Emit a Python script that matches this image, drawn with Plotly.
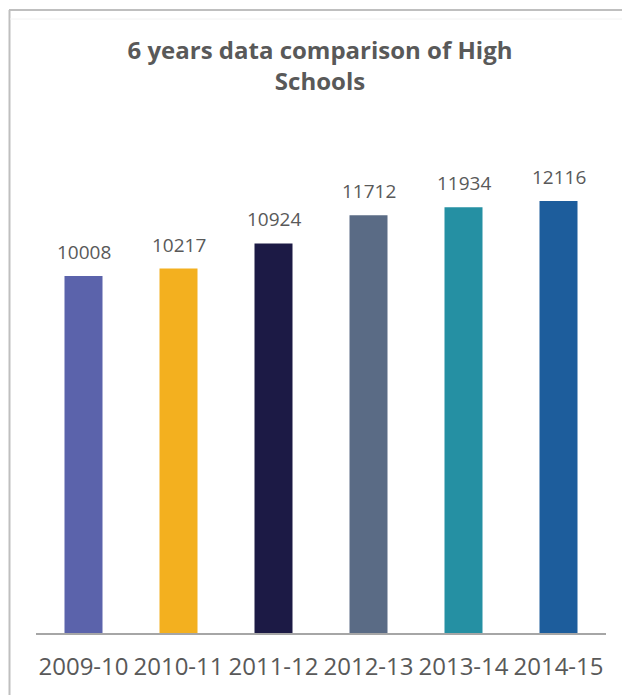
import plotly.graph_objects as go

categories = ["2009-10", "2010-11", "2011-12", "2012-13", "2013-14", "2014-15"]
values = [10008, 10217, 10924, 11712, 11934, 12116]
bar_colors = ["#5b63ab", "#f3b01f", "#1c1a45", "#5a6b85", "#2590a3", "#1d5d9c"]
title_text = "6 years data comparison of High<br>Schools"

# page has an 8px body margin; target pixel coords are shifted by OFF
OFF = 8
W, H = 630 - OFF, 695 - OFF
ML, MR, MT, MB = 36 - OFF, 24, 150 - OFF, 62
PW, PH = W - ML - MR, H - MT - MB
YMAX = PH / 0.035665

def px2x(px):
    return (px - OFF - ML) / PW

def px2y(py):
    return (H - MB - (py - OFF)) / PH

fig = go.Figure()
fig.add_trace(go.Bar(
    x=categories, y=values,
    marker=dict(color=bar_colors, line=dict(width=0)),
    hoverinfo="x+y",
))

for c, v in zip(categories, values):
    fig.add_annotation(x=c, y=v, text=str(v), showarrow=False,
                       yanchor="bottom", yshift=9,
                       font=dict(family="Open Sans", size=19, color="#595959"))

grey = "#bfbfbf"
fig.add_shape(type="line", xref="paper", yref="paper",
              x0=px2x(9.5), x1=px2x(9.5), y0=px2y(10), y1=px2y(720),
              line=dict(color=grey, width=2))
fig.add_shape(type="line", xref="paper", yref="paper",
              x0=px2x(9), x1=px2x(660), y0=px2y(10), y1=px2y(10),
              line=dict(color=grey, width=2))
fig.add_shape(type="line", xref="paper", yref="paper",
              x0=px2x(10), x1=px2x(660), y0=px2y(19), y1=px2y(19),
              line=dict(color="#f2f2f2", width=1))

fig.update_layout(
    width=W, height=H,
    margin=dict(l=ML, r=MR, t=MT, b=MB, pad=0, autoexpand=False),
    paper_bgcolor="white", plot_bgcolor="white",
    bargap=0.6,
    showlegend=False,
    title=dict(text=title_text, x=(320 - OFF) / W, xanchor="center",
               y=1 - (58.5 - OFF) / H, yanchor="middle",
               font=dict(family="Open Sans", size=24, color="#595959", weight="bold")),
    xaxis=dict(type="category", showline=True, linecolor="#a6a6a6", linewidth=1.5,
               ticks="outside", ticklen=11, tickcolor="rgba(0,0,0,0)",
               tickangle=0, automargin=False,
               tickfont=dict(family="Open Sans", size=24, color="#595959"),
               showgrid=False, zeroline=False),
    yaxis=dict(range=[0, YMAX], visible=False, showgrid=False, zeroline=False),
)

fig.write_html("out.html")
